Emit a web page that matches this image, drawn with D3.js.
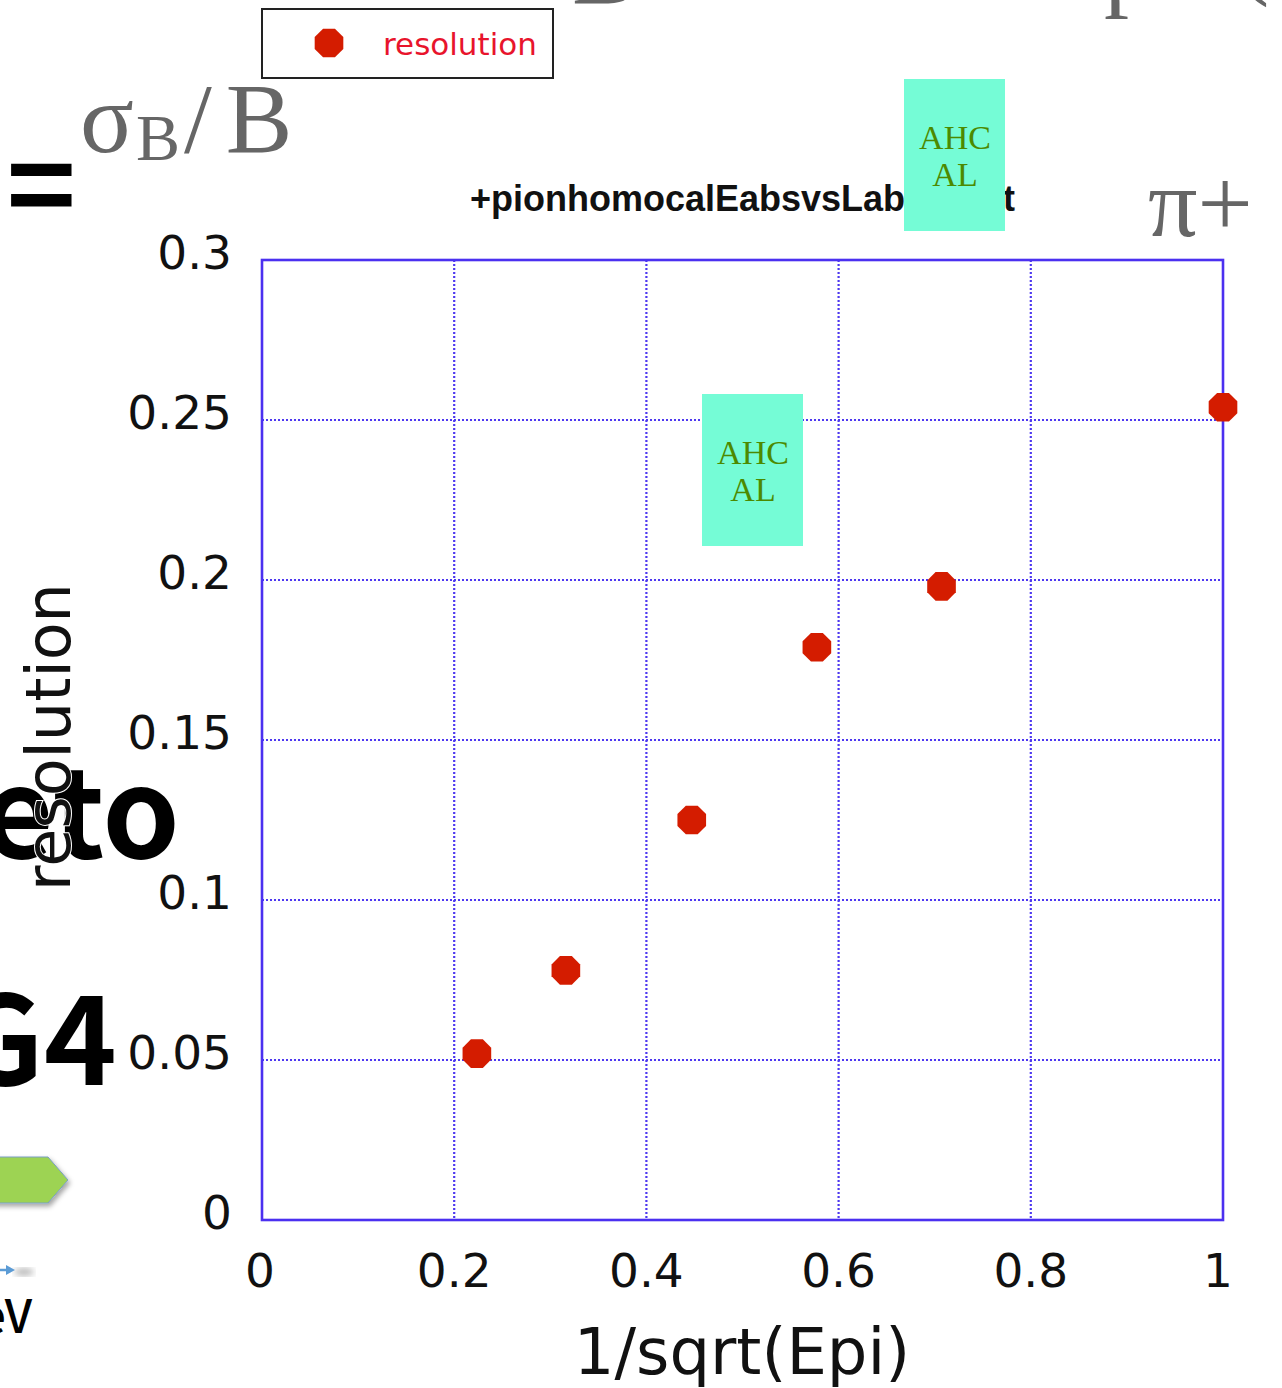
<!DOCTYPE html>
<html lang="en">
<head>
  <meta charset="UTF-8">
  <title>resolution vs 1/sqrt(Epi)</title>
  <script src="https://d3js.org/d3.v7.min.js"></script>
  <style>
    body { margin: 0; background: #fff; }
    svg { display: block; }
    .tick-label { font-family: "DejaVu Sans", sans-serif; font-size: 47px; fill: #111; }
    .slide-serif { font-family: "Liberation Serif", "Times New Roman", serif; fill: #666; }
    .slide-bold { font-family: "Noto Sans CJK JP", "Noto Sans", sans-serif; font-weight: 700; fill: #000; }
  </style>
</head>
<body>
  <script>
    // data
    const xValues = [0.2236, 0.3162, 0.4472, 0.5774, 0.7071, 1.0];
    const resolution = [0.052, 0.078, 0.125, 0.179, 0.198, 0.254];
    const xTicks = [0, 0.2, 0.4, 0.6, 0.8, 1];
    const yTicks = [0, 0.05, 0.1, 0.15, 0.2, 0.25, 0.3];
    const xTickLabels = ["0", "0.2", "0.4", "0.6", "0.8", "1"];
    const yTickLabels = ["0", "0.05", "0.1", "0.15", "0.2", "0.25", "0.3"];
    const seriesName = "resolution";

    const W = 1282, H = 1388;
    const plot = { left: 262, right: 1223, top: 260, bottom: 1220 };

    const svg = d3.select("body").append("svg")
      .attr("width", W).attr("height", H);

    // drop shadow for the slide shape
    const defs = svg.append("defs");
    const f = defs.append("filter").attr("id", "shadow")
      .attr("x", "-20%").attr("y", "-20%").attr("width", "150%").attr("height", "160%");
    f.append("feDropShadow").attr("dx", 2).attr("dy", 3).attr("stdDeviation", 2.5)
      .attr("flood-color", "#000").attr("flood-opacity", 0.35);
    const blur = defs.append("filter").attr("id", "blur");
    blur.append("feGaussianBlur").attr("stdDeviation", 3);

    // ---- leftovers of the slide behind the chart ----
    const bg = svg.append("g");

    bg.append("text").attr("class", "slide-bold")
      .attr("x", 76).attr("y", 229).attr("text-anchor", "end")
      .attr("font-size", 118).text("=");

    const sig = bg.append("text").attr("class", "slide-serif")
      .attr("x", 80).attr("y", 152).attr("font-size", 100);
    sig.append("tspan").text("σ");
    sig.append("tspan").attr("font-size", 66).attr("dy", 8).attr("dx", 2).text("B");
    sig.append("tspan").attr("dy", -8).attr("dx", 4).text("/");
    sig.append("tspan").attr("dx", 14).text("B");

    bg.append("text").attr("class", "slide-serif")
      .attr("x", 572).attr("y", 3).attr("font-size", 100).text("B");
    bg.append("text").attr("class", "slide-serif")
      .attr("x", 1104).attr("y", -2).attr("font-size", 100).text("p");
    bg.append("text").attr("class", "slide-serif")
      .attr("x", 1236).attr("y", -14).attr("font-size", 100).text("(");

    bg.append("text").attr("class", "slide-bold")
      .attr("x", 180).attr("y", 858).attr("text-anchor", "end")
      .attr("font-size", 124).text("eto");

    bg.append("text").attr("class", "slide-bold")
      .attr("x", 117).attr("y", 1085).attr("text-anchor", "end")
      .attr("font-size", 124).text("G4");

    bg.append("path")
      .attr("d", "M-10,1157 L48,1157 L68,1180 L48,1203 L-10,1203 Z")
      .attr("fill", "#9dd353").attr("stroke", "#7a9fc4").attr("stroke-width", 1)
      .attr("filter", "url(#shadow)");

    bg.append("ellipse").attr("cx", 24).attr("cy", 1272).attr("rx", 10).attr("ry", 4)
      .attr("fill", "#bbb").attr("filter", "url(#blur)");
    bg.append("path").attr("d", "M-4,1270 L8,1270").attr("stroke", "#5b9bd5").attr("stroke-width", 2.5);
    bg.append("path").attr("d", "M6,1265 L15,1270 L6,1275 Z").attr("fill", "#5b9bd5");

    bg.append("text")
      .attr("x", 32).attr("y", 1333).attr("text-anchor", "end")
      .attr("font-family", "Noto Sans CJK JP, sans-serif").attr("font-weight", 500)
      .attr("font-size", 46).text("eV");

    // ---- chart ----
    const x = d3.scaleLinear().domain([0, 1]).range([plot.left, plot.right]);
    const y = d3.scaleLinear().domain([0, 0.3]).range([plot.bottom, plot.top]);

    const grid = svg.append("g")
      .attr("stroke", "#4e38f0").attr("stroke-width", 2.2).attr("stroke-dasharray", "2 2");
    grid.selectAll(".vx").data(xTicks.slice(1, -1)).join("line")
      .attr("x1", d => x(d)).attr("x2", d => x(d))
      .attr("y1", plot.top).attr("y2", plot.bottom);
    grid.selectAll(".hy").data(yTicks.slice(1, -1)).join("line")
      .attr("y1", d => y(d)).attr("y2", d => y(d))
      .attr("x1", plot.left).attr("x2", plot.right);

    svg.append("rect")
      .attr("x", plot.left).attr("y", plot.top)
      .attr("width", plot.right - plot.left).attr("height", plot.bottom - plot.top)
      .attr("fill", "none").attr("stroke", "#4b30f0").attr("stroke-width", 2.6);

    // tick labels
    svg.append("g").selectAll("text").data(yTicks).join("text")
      .attr("class", "tick-label")
      .attr("x", plot.left - 30).attr("y", d => y(d) + 9)
      .attr("text-anchor", "end")
      .text((d, i) => yTickLabels[i]);

    svg.append("g").selectAll("text").data(xTicks).join("text")
      .attr("class", "tick-label")
      .attr("x", (d, i) => x(d) + (i === 0 ? -2 : i === xTicks.length - 1 ? -5 : 0))
      .attr("y", plot.bottom + 67)
      .attr("text-anchor", "middle")
      .text((d, i) => xTickLabels[i]);

    // axis titles
    svg.append("text")
      .attr("x", 742).attr("y", 1374).attr("text-anchor", "middle")
      .attr("font-family", "DejaVu Sans, sans-serif").attr("font-size", 64)
      .attr("fill", "#111").text("1/sqrt(Epi)");

    svg.append("text")
      .attr("transform", "translate(70,737) rotate(-90)")
      .attr("text-anchor", "middle")
      .attr("font-family", "DejaVu Sans, sans-serif").attr("font-size", 62)
      .attr("fill", "#111").attr("stroke", "#fff").attr("stroke-width", 2)
      .attr("paint-order", "stroke")
      .text("resolution");

    // chart title (partly hidden behind the box)
    const titleG = svg.append("g")
      .attr("font-family", "Liberation Sans, Arial, sans-serif")
      .attr("font-weight", 700).attr("font-size", 36).attr("fill", "#111");
    titleG.append("text").attr("x", 470).attr("y", 211)
      .text("+pionhomocalEabsvsLab");
    titleG.append("text").attr("x", 1003).attr("y", 211).text("t");

    // octagon markers
    function octagon(cx, cy, r) {
      const pts = d3.range(8).map(i => {
        const a = Math.PI / 8 + i * Math.PI / 4;
        return [cx + r * Math.cos(a), cy + r * Math.sin(a)];
      });
      return "M" + pts.map(p => p.join(",")).join("L") + "Z";
    }
    svg.append("g").selectAll("path").data(xValues).join("path")
      .attr("d", (d, i) => octagon(x(d), y(resolution[i]), 15.5))
      .attr("fill", "#d41c00");

    // legend
    const leg = svg.append("g");
    leg.append("rect").attr("x", 262).attr("y", 9).attr("width", 291).attr("height", 69)
      .attr("fill", "#fff").attr("stroke", "#222").attr("stroke-width", 2);
    leg.append("path").attr("d", octagon(329, 43, 15.5)).attr("fill", "#d41c00");
    leg.append("text").attr("x", 383).attr("y", 55)
      .attr("font-family", "DejaVu Sans, sans-serif").attr("font-size", 31)
      .attr("fill", "#e8142c").text(seriesName);

    // AHCAL labels pasted over the chart
    const boxes = [{ x: 904, y: 79 }, { x: 702, y: 394 }];
    const bx = svg.append("g").selectAll("g").data(boxes).join("g")
      .attr("transform", d => `translate(${d.x},${d.y})`);
    bx.append("rect").attr("width", 101).attr("height", 152).attr("fill", "#75fcd6");
    bx.append("text").attr("x", 51).attr("y", 70).attr("text-anchor", "middle")
      .attr("font-family", "Liberation Serif, serif").attr("font-size", 34)
      .attr("fill", "#4c8a00").text("AHC");
    bx.append("text").attr("x", 51).attr("y", 107).attr("text-anchor", "middle")
      .attr("font-family", "Liberation Serif, serif").attr("font-size", 34)
      .attr("fill", "#4c8a00").text("AL");

    svg.append("text").attr("class", "slide-serif")
      .attr("x", 1148).attr("y", 236).attr("font-size", 98).text("π+");
  </script>
</body>
</html>
